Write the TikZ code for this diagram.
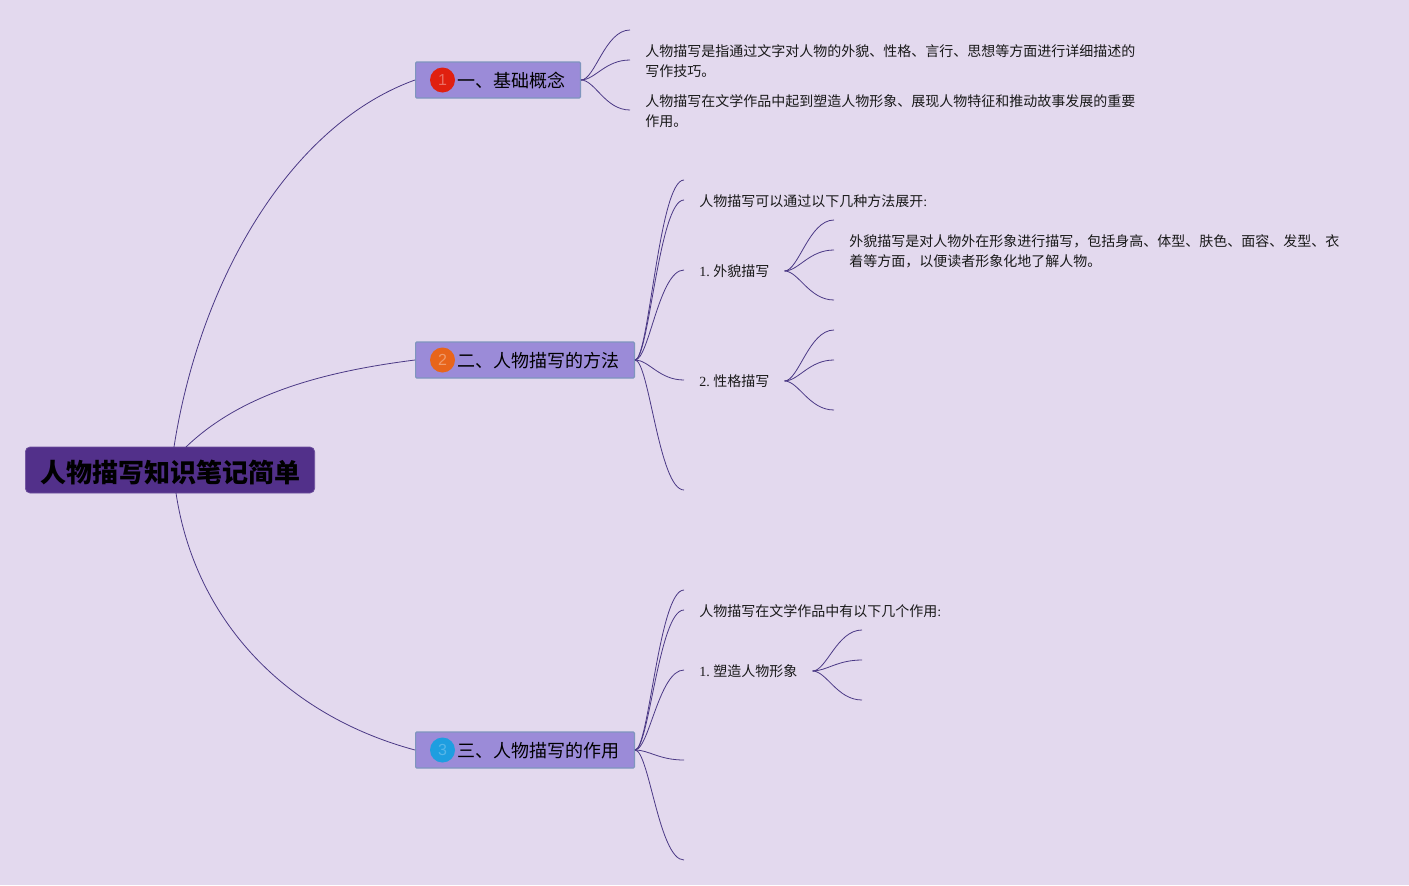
\documentclass[tikz,border=0pt]{standalone}
\usepackage{fontspec}
\setmainfont{Liberation Serif}
\setsansfont{Liberation Sans}
\newfontfamily\cjk{Noto Sans CJK SC}
\usetikzlibrary{positioning, calc}
\definecolor{pagebg}{HTML}{E3D9EE}
\definecolor{rootfill}{HTML}{52308A}
\definecolor{topicfill}{HTML}{9B8BD8}
\definecolor{topicline}{HTML}{7F95BE}
\definecolor{branchline}{HTML}{4A3885}
\definecolor{badgered}{HTML}{E0200F}
\definecolor{badgeorange}{HTML}{E8651A}
\definecolor{badgeblue}{HTML}{1E9EE0}
\tikzset{
  rootbox/.style={rectangle, rounded corners=3.5pt, fill=rootfill, draw=rootfill!85!white, line width=0.5pt, anchor=west, minimum width=217pt, minimum height=34.5pt, inner sep=0pt, text height=18.5pt, text depth=0pt, font=\cjk\bfseries\fontsize{19.5}{22}\selectfont, text=black},
  topicbox/.style={rectangle, rounded corners=0.8pt, fill=topicfill, draw=topicline, line width=0.9pt, anchor=west, minimum height=27pt, inner xsep=11.1pt, inner ysep=0pt, text height=11.5pt, text depth=0pt, font=\cjk\fontsize{13.5}{16}\selectfont, text=black},
  badge/.style={circle, minimum size=18.75pt, inner sep=0pt, font=\sffamily\fontsize{12}{14}\selectfont},
  note/.style={anchor=west, inner xsep=11.25pt, inner ysep=0pt, align=left, font=\fontsize{10.5}{15}\selectfont, text=black!90},
  branch/.style={draw=branchline, line width=0.6pt},
}
\newcommand{\curveto}[2]{\draw[branch] (#1.east) .. controls ($(#1.east)+(14,0)$) and ($(#2)+(-25,0)$) .. (#2);}
\begin{document}
\begin{tikzpicture}[x=0.75pt, y=-0.75pt]
  \useasboundingbox (0,0) rectangle (1409,885);
  \fill[pagebg] (0,0) rectangle (1409,885);

  % Root and main topics
  \node[rootbox] (root) at (25,470) {人物描写知识笔记简单};
  \node[topicbox] (basic) at (415,80) {\hspace*{20.4pt}一、基础概念};
  \node[topicbox] (method) at (415,360) {\hspace*{20.4pt}二、人物描写的方法};
  \node[topicbox] (usage) at (415,750) {\hspace*{20.4pt}三、人物描写的作用};
  \node[badge, fill=badgered, text=badgered!65!white] (badge1) at (442.5,80) {1};
  \node[badge, fill=badgeorange, text=badgeorange!65!white] (badge2) at (442.5,360) {2};
  \node[badge, fill=badgeblue, text=badgeblue!75!white] (badge3) at (442.5,750) {3};

  % Root edges
  \draw[branch] (174,447) coordinate (rootA) .. controls (200,280) and (290,125) .. (basic.west);
  \draw[branch] (186,447) coordinate (rootB) .. controls (240,395) and (320,372) .. (method.west);
  \draw[branch] (176,493) coordinate (rootC) .. controls (195,620) and (285,715) .. (usage.west);

  % Notes with text
  \node[note] (basicA) at (630,61) {\cjk 人物描写是指通过文字对人物的外貌、性格、言行、思想等方面进行详细描述的\\\cjk 写作技巧。};
  \node[note] (basicB) at (630,111) {\cjk 人物描写在文学作品中起到塑造人物形象、展现人物特征和推动故事发展的重要\\\cjk 作用。};
  \node[note] (methodA) at (684,201) {{\cjk 人物描写可以通过以下几种方法展开}:};
  \node[note] (methodB) at (684,271) {1.\ {\cjk 外貌描写}};
  \node[note] (methodC) at (684,381) {2.\ {\cjk 性格描写}};
  \node[note] (lookA) at (834,251) {\cjk 外貌描写是对人物外在形象进行描写，包括身高、体型、肤色、面容、发型、衣\\\cjk 着等方面，以便读者形象化地了解人物。};
  \node[note] (usageA) at (684,611) {{\cjk 人物描写在文学作品中有以下几个作用}:};
  \node[note] (usageB) at (684,671) {1.\ {\cjk 塑造人物形象}};

  % Free branch ends
  \coordinate (b1) at (630,30);
  \coordinate (b2) at (630,60);
  \coordinate (b3) at (630,110);
  \coordinate (m1) at (684,180);
  \coordinate (m2) at (684,200);
  \coordinate (m3) at (684,270);
  \coordinate (m4) at (684,380);
  \coordinate (m5) at (684,490);
  \coordinate (l1) at (834,220);
  \coordinate (l2) at (834,250);
  \coordinate (l3) at (834,300);
  \coordinate (c1) at (834,330);
  \coordinate (c2) at (834,360);
  \coordinate (c3) at (834,410);
  \coordinate (u1) at (684,590);
  \coordinate (u2) at (684,610);
  \coordinate (u3) at (684,670);
  \coordinate (u4) at (684,760);
  \coordinate (u5) at (684,860);
  \coordinate (s1) at (862,630);
  \coordinate (s2) at (862,660);
  \coordinate (s3) at (862,700);

  % Branches
  \foreach \e in {b1,b2,b3} {\curveto{basic}{\e}}
  \foreach \e in {m1,m2,m3,m4,m5} {\curveto{method}{\e}}
  \foreach \e in {l1,l2,l3} {\curveto{methodB}{\e}}
  \foreach \e in {c1,c2,c3} {\curveto{methodC}{\e}}
  \foreach \e in {u1,u2,u3,u4,u5} {\curveto{usage}{\e}}
  \foreach \e in {s1,s2,s3} {\curveto{usageB}{\e}}
\end{tikzpicture}
\end{document}
